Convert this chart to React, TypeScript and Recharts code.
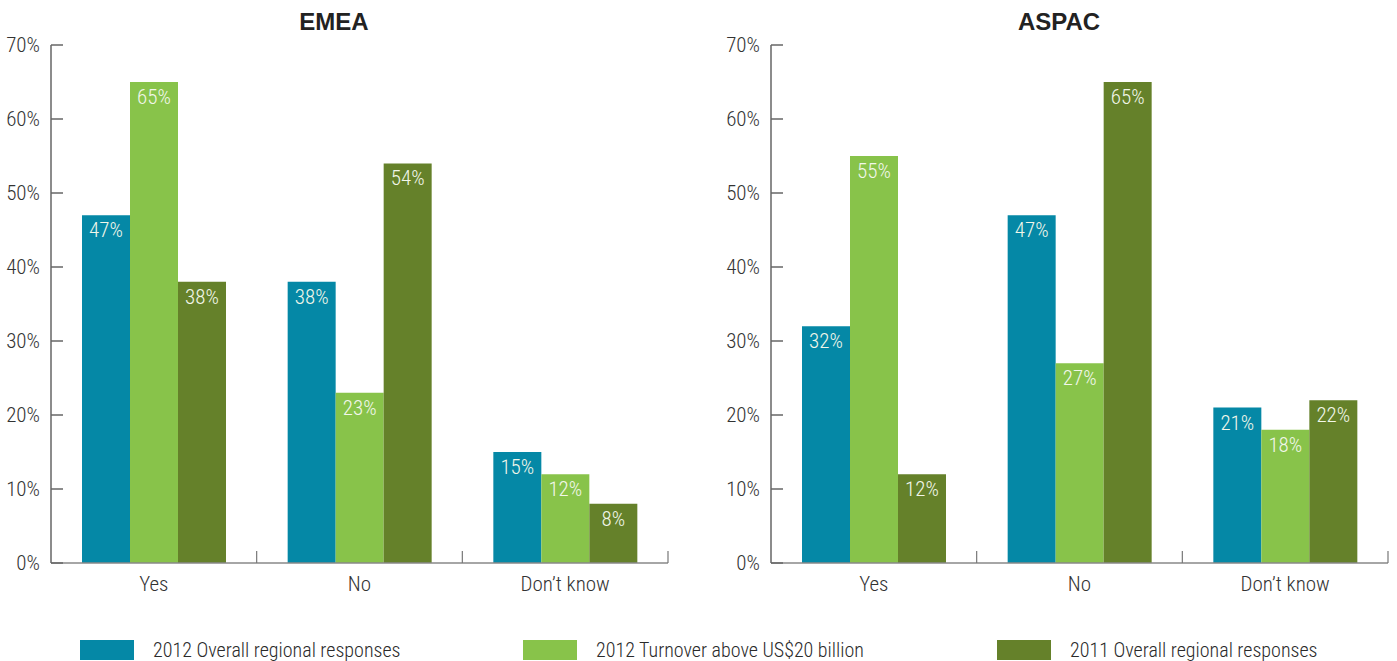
import React from 'react';
import { BarChart, Bar, XAxis, YAxis, LabelList } from 'recharts';

const categories = ['Yes', 'No', 'Don\u2019t know'];
const seriesNames = ['2012 Overall regional responses', '2012 Turnover above US$20 billion', '2011 Overall regional responses'];
const seriesColors = ['#0588a6', '#88c34a', '#65812a'];
const yTicks = [0, 10, 20, 30, 40, 50, 60, 70];

const emeaOverall2012 = [47, 38, 15];
const emeaTurnover2012 = [65, 23, 12];
const emeaOverall2011 = [38, 54, 8];

const aspacOverall2012 = [32, 47, 21];
const aspacTurnover2012 = [55, 27, 18];
const aspacOverall2011 = [12, 65, 22];

const FONT = "'Liberation Sans Narrow', 'Roboto Condensed', 'DejaVu Sans Condensed', sans-serif";
const PLOT_W = 617;

const buildRows = (a: number[], b: number[], c: number[]) =>
  categories.map((name, i) => ({ name, s0: a[i], s1: b[i], s2: c[i] }));

const emeaData = buildRows(emeaOverall2012, emeaTurnover2012, emeaOverall2011);
const aspacData = buildRows(aspacOverall2012, aspacTurnover2012, aspacOverall2011);

const YTick = ({ x, y, payload }: any) => (
  <g>
    <line x1={x} x2={x + 12} y1={y} y2={y} stroke="#666" strokeWidth={1.5} />
    <text x={x - 11} y={y} dy={7} textAnchor="end" fill="#333" fontSize={21} fontWeight={300} fontFamily={FONT}>
      {payload.value}%
    </text>
  </g>
);

const XTick = ({ x, y, payload }: any) => {
  const half = payload && payload.offset ? payload.offset : PLOT_W / categories.length / 2;
  return (
    <g>
      <line x1={x + half} x2={x + half} y1={y} y2={y - 12} stroke="#777" strokeWidth={1.2} />
      <text x={x} y={y + 28} textAnchor="middle" fill="#333" fontSize={21} fontWeight={300} fontFamily={FONT}>
        {payload.value}
      </text>
    </g>
  );
};

const Panel = ({ data, title, left, width, right, titleCenter }: any) => (
  <div style={{ position: 'absolute', left, top: 0, width, height: 620 }}>
    <div
      style={{
        position: 'absolute',
        left: titleCenter - 100,
        width: 200,
        top: 8,
        textAlign: 'center',
        fontFamily: "'Liberation Sans', Arial, sans-serif",
        fontWeight: 'bold',
        fontSize: 24,
        color: '#222',
      }}
    >
      {title}
    </div>
    <BarChart
      width={width}
      height={620}
      data={data}
      margin={{ top: 45, right, bottom: 17, left: 0 }}
      barGap={0}
    >
      <XAxis
        dataKey="name"
        tickLine={false}
        tickSize={0}
        tickMargin={0}
        tick={<XTick />}
        axisLine={{ stroke: '#888', strokeWidth: 1.5 }}
        height={40}
        interval={0}
      />
      <YAxis
        domain={[0, 70]}
        ticks={yTicks}
        tickLine={false}
        tickSize={0}
        tickMargin={0}
        tick={<YTick />}
        axisLine={{ stroke: '#666', strokeWidth: 1.5 }}
        width={51}
        interval={0}
      />
      {['s0', 's1', 's2'].map((k, i) => (
        <Bar key={k} dataKey={k} name={seriesNames[i]} fill={seriesColors[i]} barSize={48} isAnimationActive={false}>
          <LabelList
            dataKey={k}
            position="insideTop"
            offset={7}
            formatter={(v: any) => `${v}%`}
            fill="#f2f7ea"
            fontSize={21}
            fontWeight={300}
            fontFamily={FONT}
          />
        </Bar>
      ))}
    </BarChart>
  </div>
);

const legendX = [80, 523, 997];

const App = () => (
  <div style={{ position: 'absolute', left: 0, top: 0, width: 1397, height: 661, background: '#fff', overflow: 'hidden' }}>
    <Panel data={emeaData} title="EMEA" left={0} width={700} right={32} titleCenter={334} />
    <Panel data={aspacData} title="ASPAC" left={720} width={677} right={9} titleCenter={339} />
    {seriesNames.map((n, i) => (
      <div key={n} style={{ position: 'absolute', left: legendX[i], top: 640, height: 20, display: 'flex', alignItems: 'center' }}>
        <div style={{ width: 54, height: 20, background: seriesColors[i], marginRight: 19 }} />
        <span style={{ fontFamily: FONT, fontSize: 20, fontWeight: 300, color: '#2a2a2a', whiteSpace: 'nowrap' }}>{n}</span>
      </div>
    ))}
  </div>
);

export default App;
